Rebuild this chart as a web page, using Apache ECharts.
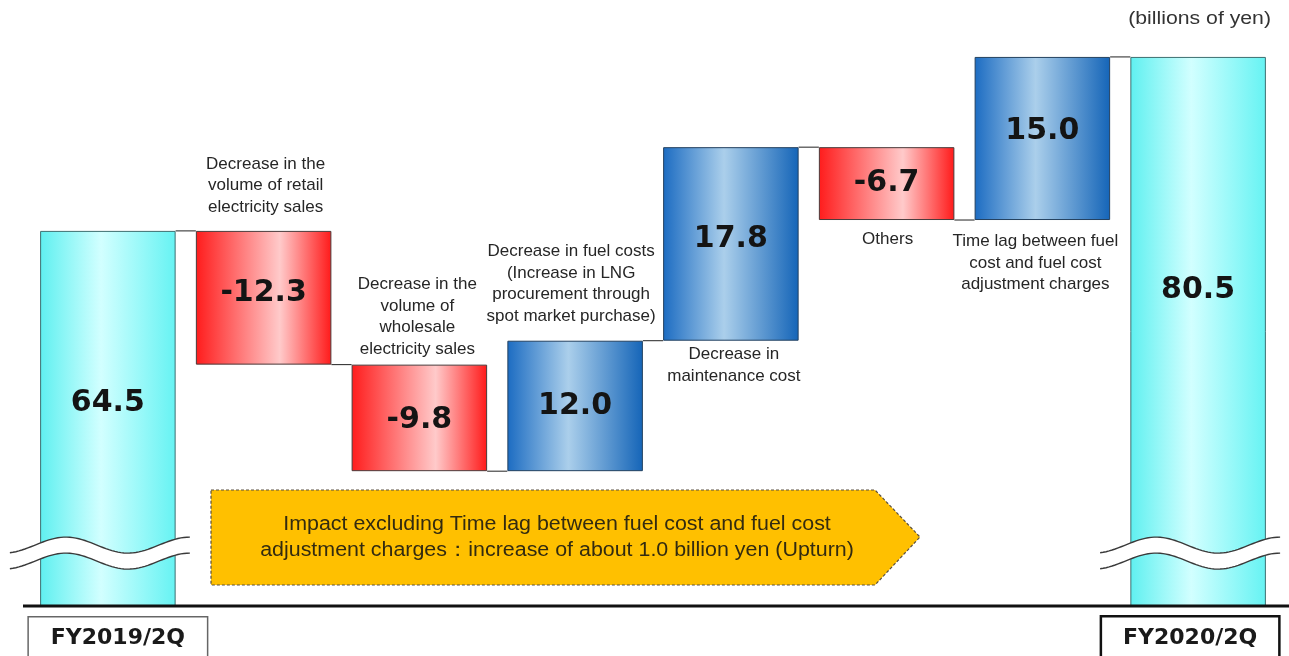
<!DOCTYPE html>
<html>
<head>
<meta charset="utf-8">
<script src="https://cdn.jsdelivr.net/npm/echarts@6/dist/echarts.min.js"></script>
<style>
  html, body { margin: 0; padding: 0; background: #ffffff; }
  #chart { width: 1289px; height: 656px; }
</style>
</head>
<body>
<div id="chart"></div>
<script>
// Ordinary income bridge, FY2019/2Q -> FY2020/2Q (billions of yen)
const categories = ['FY2019/2Q', 'Retail sales', 'Wholesale sales', 'Fuel costs', 'Maintenance', 'Others', 'Time lag', 'FY2020/2Q'];
const notes = [
  '',
  'Decrease in the\nvolume of retail\nelectricity sales',
  'Decrease in the\nvolume of\nwholesale\nelectricity sales',
  'Decrease in fuel costs\n(Increase in LNG\nprocurement through\nspot market purchase)',
  'Decrease in\nmaintenance cost',
  'Others',
  'Time lag between fuel\ncost and fuel cost\nadjustment charges',
  ''
];
const startValue = 64.5;
const endValue = 80.5;
const changes = [-12.3, -9.8, 12.0, 17.8, -6.7, 15.0];
const unitText = '(billions of yen)';
const arrowText = 'Impact excluding Time lag between fuel cost and fuel cost\nadjustment charges：increase of about 1.0 billion yen (Upturn)';

// running level after each step
const levels = [startValue];
changes.forEach(c => levels.push(Math.round((levels[levels.length - 1] + c) * 10) / 10));

// invisible base + visible block for the floating bars
const baseData = ['-'].concat(changes.map((c, i) => Math.min(levels[i], levels[i + 1]))).concat(['-']);
const sizes = [startValue].concat(changes.map(c => Math.abs(c))).concat([endValue]);
const labels = [startValue].concat(changes).concat([endValue]).map(v => v.toFixed(1));

// axis is cut: values below this are not shown
const AXIS_CUT = 30;

const grad = (a, b, c, mid) => new echarts.graphic.LinearGradient(0, 0, 1, 0, [
  { offset: 0, color: a }, { offset: mid, color: b }, { offset: 1, color: c }
]);
const totalStyle = { color: grad('#5ff0f0', '#d2ffff', '#66f3f3', 0.45), borderColor: '#3d6f70', borderWidth: 1 };
const downStyle = { color: grad('#ff1c1c', '#ffcaca', '#ff1a1a', 0.62), borderColor: '#4a3a3a', borderWidth: 1 };
const upStyle = { color: grad('#1c6cc2', '#abcfeb', '#1565b8', 0.45), borderColor: '#23415f', borderWidth: 1 };

// label vertical nudges and note placement (layout only)
const labelShift = [-15, -5, 2, 0, -5, 0, -7, -42];
const noteLayout = [null,
  { side: 'top', gap: 13, dx: 2 },
  { side: 'top', gap: 5, dx: -2 },
  { side: 'top', gap: 14, dx: -4 },
  { side: 'bottom', gap: 3, dx: 3 },
  { side: 'bottom', gap: 9, dx: 1 },
  { side: 'bottom', gap: 11, dx: -7 },
  null];

const BAR_RATIO = 0.87;

const blockData = sizes.map((v, i) => {
  let style = totalStyle;
  if (i > 0 && i < sizes.length - 1) style = changes[i - 1] < 0 ? downStyle : upStyle;
  return { value: v, itemStyle: style, label: { offset: [0, labelShift[i]] } };
});

const chart = echarts.init(document.getElementById('chart'), null, { renderer: 'canvas' });

const option = {
  animation: false,
  backgroundColor: '#ffffff',
  grid: { left: 30, right: 13, top: 8, bottom: 50, containLabel: false, outerBoundsMode: 'none' },
  xAxis: {
    type: 'category',
    data: categories,
    axisLine: { show: false },
    axisTick: { show: false },
    axisLabel: {
      interval: 0,
      margin: 20,
      formatter: (value, index) => {
        if (index === 0) return '{sp| }{a|' + value + '}';
        if (index === categories.length - 1) return '{b|' + value + '}{sp2| }';
        return '';
      },
      rich: {
        sp: { width: 20 },
        sp2: { width: 16 },
        a: {
          fontFamily: 'DejaVu Sans', fontWeight: 'bold', fontSize: 22, color: '#1a1a1a',
          width: 178, align: 'center', lineHeight: 24, padding: [10, 0, 9, 0],
          borderColor: '#666666', borderWidth: 1.5, backgroundColor: '#ffffff'
        },
        b: {
          fontFamily: 'DejaVu Sans', fontWeight: 'bold', fontSize: 22, color: '#1a1a1a',
          width: 176, align: 'center', lineHeight: 24, padding: [10, 0, 9, 0],
          borderColor: '#111111', borderWidth: 2.5, backgroundColor: '#ffffff'
        }
      }
    }
  },
  yAxis: {
    type: 'value',
    min: AXIS_CUT,
    max: 85,
    show: false,
    splitLine: { show: false }
  },
  series: [
    {
      name: 'base',
      type: 'bar',
      stack: 'bridge',
      barWidth: (BAR_RATIO * 100) + '%',
      itemStyle: { color: 'transparent', borderColor: 'transparent' },
      emphasis: { disabled: true },
      silent: true,
      data: baseData
    },
    {
      name: 'amount',
      type: 'bar',
      stack: 'bridge',
      barWidth: (BAR_RATIO * 100) + '%',
      data: blockData,
      label: {
        show: true,
        position: 'inside',
        formatter: p => labels[p.dataIndex],
        fontFamily: 'DejaVu Sans',
        fontWeight: 'bold',
        fontSize: 30,
        color: '#141414'
      }
    },
    {
      name: 'connectors',
      type: 'custom',
      silent: true,
      data: levels.map((v, i) => [i, v]),
      renderItem: (params, api) => {
        const i = api.value(0), v = api.value(1);
        const p1 = api.coord([i, v]);
        const p2 = api.coord([i + 1, v]);
        const half = api.size([1, 0])[0] * BAR_RATIO / 2;
        return {
          type: 'line',
          shape: { x1: p1[0] + half, y1: p1[1], x2: p2[0] - half, y2: p2[1] },
          style: { stroke: '#222222', lineWidth: 1 }
        };
      },
      z: 1
    },
    {
      name: 'notes',
      type: 'custom',
      silent: true,
      data: notes.map((t, i) => [i, i]),
      renderItem: (params, api) => {
        const i = params.dataIndex;
        const lay = noteLayout[i];
        if (!lay || !notes[i]) return null;
        const prev = levels[i - 1], next = levels[i];
        const anchor = lay.side === 'top' ? Math.max(prev, next) : Math.min(prev, next);
        const p = api.coord([i, anchor]);
        return {
          type: 'text',
          x: p[0] + lay.dx,
          y: lay.side === 'top' ? p[1] - lay.gap : p[1] + lay.gap,
          style: {
            text: notes[i],
            fill: '#262626',
            fontFamily: 'Liberation Sans, Arial, sans-serif',
            fontSize: 17,
            lineHeight: 21.5,
            align: 'center',
            verticalAlign: lay.side === 'top' ? 'bottom' : 'top'
          }
        };
      }
    }
  ]
};

chart.setOption(option);

// annotations: axis base line, axis-break marks, summary arrow, unit label
function breakMark(cx, yc) {
  const x0 = cx - 98, x1 = cx + 82, n = 60;
  const upper = [], lower = [];
  for (let k = 0; k <= n; k++) {
    const u = k / n;
    const th = -Math.PI / 2 + 0.3 + u * (3 * Math.PI - 0.3);
    const x = x0 + u * (x1 - x0);
    const y = yc - 8 * Math.sin(th);
    upper.push([x, y]);
    lower.push([x, y + 16]);
  }
  return [
    { type: 'polygon', z: 50, silent: true, shape: { points: upper.concat(lower.slice().reverse()) }, style: { fill: '#ffffff', stroke: null } },
    { type: 'polyline', z: 51, silent: true, shape: { points: upper }, style: { stroke: '#3a3a3a', lineWidth: 1.4, fill: null } },
    { type: 'polyline', z: 51, silent: true, shape: { points: lower }, style: { stroke: '#3a3a3a', lineWidth: 1.4, fill: null } }
  ];
}

const baseY = chart.convertToPixel({ yAxisIndex: 0 }, AXIS_CUT);
const breakY = chart.convertToPixel({ yAxisIndex: 0 }, 35.6);
const firstX = chart.convertToPixel({ xAxisIndex: 0 }, 0);
const lastX = chart.convertToPixel({ xAxisIndex: 0 }, categories.length - 1);

const graphics = [
  {
    type: 'line', z: 60, silent: true,
    shape: { x1: 23, y1: baseY, x2: 1289, y2: baseY },
    style: { stroke: '#111111', lineWidth: 3 }
  },
  {
    type: 'polygon', z: 40, silent: true,
    shape: { points: [[211, 490], [875, 490], [920, 537], [875, 585], [211, 585]] },
    style: { fill: '#ffc000', stroke: '#5a5040', lineWidth: 1.2, lineDash: [3, 2] }
  },
  {
    type: 'text', z: 41, silent: true,
    x: 557, y: 537,
    scaleX: 1.07,
    style: {
      text: arrowText, fill: '#332b10',
      fontFamily: 'Liberation Sans, Arial, sans-serif', fontSize: 20, lineHeight: 26,
      align: 'center', verticalAlign: 'middle'
    }
  },
  {
    type: 'text', z: 41, silent: true,
    x: 1271, y: 19,
    scaleX: 1.18,
    style: {
      text: unitText, fill: '#333333',
      fontFamily: 'Liberation Sans, Arial, sans-serif', fontSize: 18,
      align: 'right', verticalAlign: 'middle'
    }
  }
].concat(breakMark(firstX, breakY)).concat(breakMark(lastX, breakY));

chart.setOption({ graphic: { elements: graphics } });
</script>
</body>
</html>
